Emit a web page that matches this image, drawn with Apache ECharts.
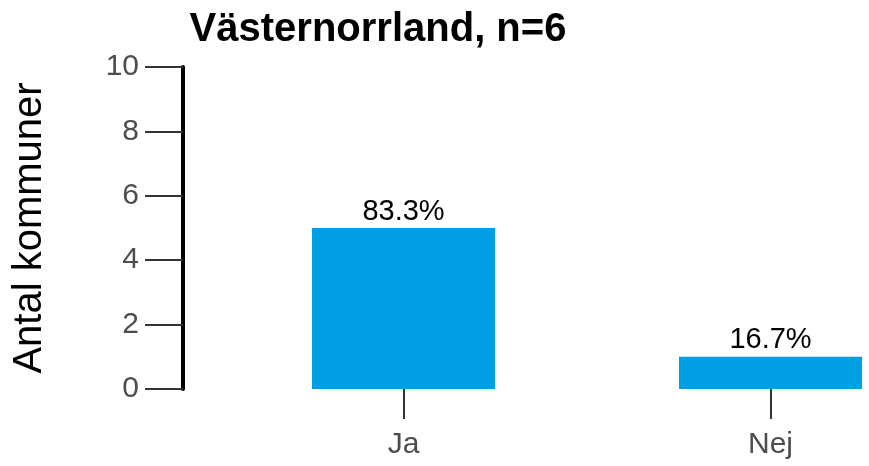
<!DOCTYPE html>
<html>
<head>
<meta charset="utf-8">
<script src="https://cdn.jsdelivr.net/npm/echarts@6/dist/echarts.min.js"></script>
<style>
  html, body { margin: 0; padding: 0; background: #fff; }
  #chart { width: 869px; height: 466px; }
</style>
</head>
<body>
<div id="chart"></div>
<script>
const categories = ['Ja', 'Nej'];
const counts = [5, 1];
const yTicks = [0, 2, 4, 6, 8, 10];

const total = counts.reduce((a, b) => a + b, 0);
const font = '"Liberation Sans", Arial, sans-serif';

const chart = echarts.init(document.getElementById('chart'));
chart.setOption({
  animation: false,
  title: {
    text: 'Västernorrland, n=6',
    left: 373,
    textAlign: 'center',
    top: 5,
    textStyle: { fontFamily: font, fontSize: 40, fontWeight: 'bold', color: '#000' }
  },
  // the category bands run past the right edge, as in the original
  grid: { left: 220, right: -85, top: 67, bottom: 77, containLabel: false, outerBoundsMode: 'none' },
  xAxis: {
    type: 'category',
    data: categories,
    offset: 3,
    axisLine: { show: false },
    axisTick: { show: true, alignWithLabel: true, length: 30, lineStyle: { color: '#333', width: 2 } },
    axisLabel: { fontFamily: font, fontSize: 30, color: '#4d4d4d', margin: 38 }
  },
  yAxis: {
    type: 'value',
    min: yTicks[0],
    max: yTicks[yTicks.length - 1],
    interval: 2,
    offset: 37,
    name: 'Antal kommuner',
    nameLocation: 'middle',
    nameGap: 133,
    nameTextStyle: { fontFamily: font, fontSize: 40, color: '#000' },
    splitLine: { show: false },
    axisLine: { show: true, lineStyle: { color: '#000', width: 4 } },
    axisTick: { show: true, length: 38, lineStyle: { color: '#333', width: 2 } },
    axisLabel: { fontFamily: font, fontSize: 30, color: '#4d4d4d', margin: 44 }
  },
  series: [{
    type: 'bar',
    data: counts,
    barWidth: 183,
    itemStyle: { color: '#009fe3' },
    label: {
      show: true,
      position: 'top',
      distance: 2,
      fontFamily: font,
      fontSize: 29,
      color: '#000',
      formatter: p => (p.value / total * 100).toFixed(1) + '%'
    }
  }]
});
</script>
</body>
</html>
